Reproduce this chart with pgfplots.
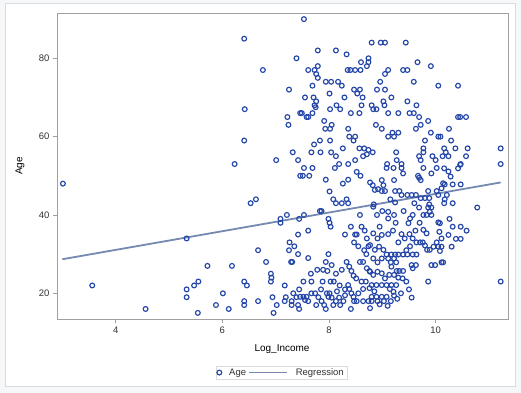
\documentclass[border=0pt]{standalone}
\usepackage{pgfplots}
\pgfplotsset{compat=1.18}
\usepackage{fontspec}
\setmainfont{Liberation Sans}
\definecolor{mk}{RGB}{36,70,168}
\definecolor{fit}{RGB}{118,138,176}
\definecolor{ax}{RGB}{160,160,160}
\definecolor{txt}{RGB}{50,50,50}
\definecolor{bg}{RGB}{245,247,249}
\definecolor{bd}{RGB}{215,220,225}
\begin{document}
\begin{tikzpicture}
\fill[bg] (0,0) rectangle (521bp,393bp);
\filldraw[fill=white,draw=bd,line width=1bp] (5bp,6bp) rectangle (515bp,389bp);
\begin{axis}[
  at={(57bp,74bp)}, anchor=south west,
  width=451bp, height=306bp, scale only axis,
  xmin=2.899, xmax=11.357, ymin=13.44, ymax=91.56,
  xtick={4,6,8,10}, ytick={20,40,60,80},
  xtick pos=bottom, ytick pos=left, tick align=outside,
  major tick length=4bp,
  axis line style={ax, line width=0.8bp},
  every tick/.style={ax, line width=0.8bp},
  tick label style={font=\fontsize{9.5}{11}\selectfont, text=txt},
  /pgf/number format/assume math mode=true,
  xlabel={Log\_Income}, ylabel={Age},
  label style={font=\fontsize{10}{12}\selectfont, text=txt},
  every axis x label/.style={at={(axis description cs:0.499,-0.098)},anchor=center},
  every axis y label/.style={at={(axis description cs:-0.082,0.5)},rotate=90,anchor=center},
  legend style={at={(0.498,-0.175)}, anchor=center, legend columns=2,
    draw=bd, font=\fontsize{9.5}{11}\selectfont, text=txt, inner sep=1bp,
    nodes={inner xsep=2.5bp, inner ysep=1.5bp},
    /tikz/every odd column/.append style={column sep=5bp}},
  clip=false,
]
\addplot[only marks, mark=o, mark size=2.4bp, mark options={mk, line width=1.15bp}] coordinates {
(3.01,48) (6.41,85) (6.42,67) (6.41,59) (6.23,53) (6.63,44) (6.53,43) (6.76,77)
(3.56,22) (4.56,16) (5.33,34) (5.33,21) (5.33,19) (5.47,22) (5.55,23) (5.54,15) (5.72,27) (5.88,17) (6.01,20) (6.12,16) (6.18,27) (6.41,23) (6.46,22) (6.41,18) (6.41,17) (6.67,31) (6.67,18)
(7.39,80) (7.25,72) (7.22,65) (7.24,63) (7.46,66) (7.32,56) (7.01,54) (7.42,54)
(7.46,50) (7.09,39) (7.09,38) (7.21,40) (7.44,39) (7.42,35) (7.26,33) (7.35,32) (7.25,31) (7.42,30) (7.29,28) (7.31,28) (6.82,28) (6.91,25) (6.92,24) (6.91,23) (7.17,22) (7.44,21) (7.33,20) (7.39,19) (7.19,19) (7.30,18) (7.17,18) (7.42,17) (7.30,17) (6.94,19) (7.02,17) (6.96,15) (7.44,16)
(7.53,90) (7.79,82) (8.13,82) (8.33,81) (8.60,79) (8.74,80) (8.80,84) (8.97,84) (9.05,84) (9.44,84)
(7.61,77) (7.73,77) (7.79,78) (7.76,76) (7.79,75) (8.35,77) (8.40,77) (8.49,77) (8.59,77) (8.71,78) (8.74,79)
(7.94,74) (8.04,74) (8.17,74) (8.24,73) (7.69,73) (8.01,71) (7.55,70) (7.71,70) (7.76,69) (7.73,68) (7.75,67.5)
(8.29,70) (8.47,72) (8.58,72) (8.53,71) (8.63,70) (8.61,68) (8.57,66) (8.41,66) (8.14,68) (8.21,67) (8.02,67) (7.49,66) (7.58,65) (7.61,65) (7.69,66) (7.91,64) (7.93,62) (8.05,63) (8.02,62) (8.36,62) (8.38,60) (8.49,60) (8.46,59) (7.83,59) (7.72,58) (8.02,59) (8.26,57) (8.57,57) (8.66,57) (8.74,56.6) (7.67,56) (7.84,56) (8.04,56) (8.13,55) (8.49,54) (8.64,55) (8.71,55.5) (8.19,53) (8.36,53)
(9.66,79) (9.91,78) (9.11,77) (9.05,76) (9.39,77) (9.47,77) (8.96,74) (9.59,74) (10.05,73) (8.90,72) (9.05,72) (9.17,70) (9.02,69) (9.04,68) (9.47,69) (9.64,68) (8.80,68) (8.83,67) (8.89,67) (9.11,66) (9.30,66) (9.51,66) (9.59,66) (9.69,65) (9.86,64) (8.88,63) (8.99,62) (9.72,63) (9.63,62) (9.11,60) (9.19,61) (9.22,60) (9.30,61) (9.91,61) (10.05,60) (9.80,59) (9.77,57) (9.77,56) (8.82,56) (9.26,56) (9.69,55) (9.94,55) (9.27,54) (9.36,53) (9.72,54) (9.09,53) (10.0,54)
(10.42,73) (10.42,65) (10.46,65) (10.57,65) (10.25,62) (10.09,60) (10.29,59) (10.16,57) (10.37,57) (10.60,57) (11.22,57) (10.19,56) (10.24,55) (10.13,55) (10.57,55) (10.47,53) (11.22,53)
(7.53,52) (7.69,52) (7.51,50) (7.63,50) (8.11,52) (8.52,51) (8.59,50) (7.94,49) (8.26,48) (8.36,49) (8.01,46) (8.08,44) (8.13,43) (8.24,43) (8.33,44) (8.36,43) (7.83,41) (7.86,41) (7.53,40) (8.58,40) (7.99,39) (8.01,38) (8.03,37) (8.41,37) (8.61,37) (8.67,36) (8.30,35) (8.49,35) (8.52,35) (8.71,34) (8.47,33) (8.55,32) (8.74,32) (7.61,36) (7.61,29) (7.99,30) (7.94,28) (8.05,27.2) (7.97,25.7) (7.89,26) (7.78,26) (8.13,25) (8.24,26) (8.33,28) (8.38,26.8) (8.42,25.7) (8.46,24.5) (8.51,23.8) (8.58,28) (8.64,28) (8.71,26.4) (8.76,25.7) (7.66,25) (8.09,23) (8.03,23) (7.88,23) (7.52,23) (7.67,23) (8.36,22.1) (8.38,21.1) (8.61,23) (8.69,23) (8.64,21.1) (8.76,21.3) (7.46,19.1) (7.52,19.1) (7.58,19.1) (7.55,18.3) (7.61,18) (7.67,20) (7.74,20) (7.96,20) (8.01,20) (7.99,19.1) (8.05,18.9) (8.19,18.9) (8.13,18) (8.27,18) (8.42,20) (8.46,19.1) (7.86,18) (7.76,17) (7.91,17) (7.94,16) (8.08,17) (8.21,17) (8.41,16) (8.47,18) (8.52,18) (8.64,18) (8.74,18) (8.77,16.2)
(9.08,52) (9.21,52) (9.36,52) (9.39,50.6) (9.22,48.9) (8.99,48.9) (9.02,47.6) (8.92,46.6) (8.82,47.6) (8.86,46.4) (8.99,46.1) (9.05,46.1) (8.77,48.3) (9.77,52) (10.02,52) (9.92,50.6) (9.69,49.5) (9.72,48.9) (9.67,50) (9.24,46.1) (9.32,46.1) (9.36,45.1) (9.86,46.1) (9.47,45.1) (9.55,45.1) (9.63,45.1) (9.72,44.3) (9.80,44.3) (9.88,44.3) (10.02,46.1) (10.05,45.1) (8.84,42.7) (8.83,42.1) (9.24,43.2) (9.69,41.9) (9.86,41.9) (9.89,40.8) (9.92,40) (9.83,40) (9.77,40) (9.88,42.7) (9.92,41.9) (9.52,39.1) (9.57,40) (9.49,37.9) (9.11,40.8) (9.22,40) (9.11,39.1) (9.77,36.2) (9.83,35.3) (10.05,38.1) (10.07,35.7) (8.83,35.3) (8.91,34) (8.99,34.9) (9.11,35.1) (9.36,35.1) (9.42,34) (9.51,35.1) (9.57,34) (9.64,33) (9.71,33) (9.76,33) (9.80,32.2) (9.84,31.1) (9.89,31.1) (9.96,31.9) (10.02,33) (10.05,31.9) (8.77,32.3) (8.86,31.1) (8.94,31.9) (9.02,31.1) (9.08,29.9) (9.17,29.9) (9.24,29.9) (9.30,29.9) (9.39,29.9) (9.47,29.9) (9.57,29.9) (9.64,29.9) (9.11,28.9) (9.22,28.9) (9.16,27.9) (9.26,27.9) (9.17,26.8) (8.83,28.9) (8.99,28.9) (8.91,27.9) (9.55,27.2) (9.63,27.2) (9.57,26.4) (9.92,27.2) (9.99,27.2) (9.86,23) (8.77,25.5) (8.83,24.7) (8.91,25.5) (8.99,25.1) (9.05,23.8) (9.13,24.7) (9.22,24.7) (9.27,25.7) (9.32,25.7) (9.38,23.8) (9.39,25.7) (8.80,22.1) (8.89,22.1) (8.99,22.1) (9.08,22.1) (9.17,22.1) (9.26,22.1) (9.14,21.1) (9.21,20.4) (9.22,19.4) (8.80,19.1) (8.89,19.1) (8.99,19.1) (9.08,19.1) (8.80,18) (8.91,18) (9.03,18) (9.16,18) (9.55,18.9)
(10.16,51.9) (10.24,51.1) (10.28,49.8) (10.42,51.9) (10.46,52.8) (10.14,48.1) (10.17,47.8) (10.11,46.8) (10.32,47.8) (10.47,47.8) (10.21,45.1) (10.17,44) (10.16,43) (10.32,43) (10.78,41.9) (10.26,39) (10.32,37) (10.47,37) (10.58,36) (10.08,37.9) (10.24,34.9) (10.38,33.9) (10.47,33.9) (10.11,34) (10.11,31.9) (10.3,31.9) (10.08,30.8) (10.11,27.9) (10.14,27.9) (11.22,23)
(9.30,24) (9.45,23) (9.50,21) (9.35,20) (9.28,18.6) (9.45,31) (9.52,32) (9.30,33) (9.20,36) (9.25,38) (8.95,37) (8.90,40) (9.00,41) (8.70,30) (8.66,31) (8.85,20.5) (8.95,17.2) (9.10,16.8) (8.55,20) (8.30,21) (8.20,22) (8.15,20.5) (7.85,21) (7.80,19) (8.30,19.5) (9.62,36) (9.70,38) (9.40,41) (9.60,43) (9.15,44)
};
\addlegendentry{Age}
\addplot[fit, line width=1.8bp, legend image code/.code={\draw[fit, line width=1.8bp] (0bp,0bp) -- (38bp,0bp);}] coordinates {(3.0,28.7) (11.22,48.3)};
\addlegendentry{Regression}
\end{axis}
\end{tikzpicture}
\end{document}
